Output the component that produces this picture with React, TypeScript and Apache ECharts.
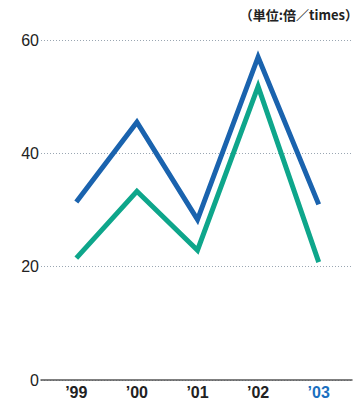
import React, { useEffect, useRef } from "react";
import * as echarts from "echarts";

const categories = ["’99", "’00", "’01", "’02", "’03"];
const blueSeries = [31.4, 45.5, 28.3, 57, 31];
const greenSeries = [21.5, 33.3, 22.9, 51.8, 20.8];
const yTicks = [0, 20, 40, 60];
const unitLabel = "（単位:倍／times）";

export default function App() {
  const ref = useRef<HTMLDivElement>(null);
  useEffect(() => {
    if (!ref.current) return;
    const chart = echarts.init(ref.current, undefined, { renderer: "svg" });
    const font = "'Liberation Sans', Arial, sans-serif";
    chart.setOption({
      animation: false,
      textStyle: { fontFamily: font },
      title: {
        text: unitLabel,
        right: 0,
        top: 8,
        padding: 0,
        textStyle: { fontSize: 13, fontWeight: "bold", color: "#222", fontFamily: "'Noto Sans CJK JP', sans-serif" },
      },
      grid: [
        { left: 41, right: 6, top: 40, bottom: 21 },
        { left: 46, right: 9, top: 40, bottom: 21 },
      ],
      xAxis: [
        {
          type: "value",
          gridIndex: 0,
          min: 0,
          max: 1,
          axisLine: { show: true, lineStyle: { color: "#555", width: 1.5 } },
          axisTick: { show: false },
          axisLabel: { show: false },
          splitLine: { show: false },
        },
        {
          type: "category",
          gridIndex: 1,
          data: categories,
          boundaryGap: true,
          axisLine: { show: false },
          axisTick: { show: false },
          axisLabel: {
            fontSize: 16,
            fontWeight: "bold",
            color: (_v: string, i: number) => (i === 4 ? "#1a6fc0" : "#222"),
            margin: 4,
          },
        },
      ],
      yAxis: [
        {
          type: "value",
          gridIndex: 0,
          min: yTicks[0],
          max: yTicks[yTicks.length - 1],
          interval: 20,
          axisLine: { show: false },
          axisTick: { show: false },
          axisLabel: { fontSize: 16, color: "#222", margin: 2 },
          splitLine: {
            show: true,
            lineStyle: { color: "#9aa6b2", type: [1, 2], width: 1 },
          },
        },
        {
          type: "value",
          gridIndex: 1,
          min: yTicks[0],
          max: yTicks[yTicks.length - 1],
          interval: 20,
          axisLine: { show: false },
          axisTick: { show: false },
          axisLabel: { show: false },
          splitLine: { show: false },
        },
      ],
      series: [
        {
          type: "line",
          xAxisIndex: 1,
          yAxisIndex: 1,
          data: blueSeries,
          symbol: "none",
          lineStyle: { color: "#1a63ae", width: 5, join: "miter", cap: "butt" },
        },
        {
          type: "line",
          xAxisIndex: 1,
          yAxisIndex: 1,
          data: greenSeries,
          symbol: "none",
          lineStyle: { color: "#0ea68b", width: 5, join: "miter", cap: "butt" },
        },
      ],
    });
    return () => chart.dispose();
  }, []);
  return <div ref={ref} style={{ width: 358, height: 401, position: "absolute", left: 0, top: 0 }} />;
}
